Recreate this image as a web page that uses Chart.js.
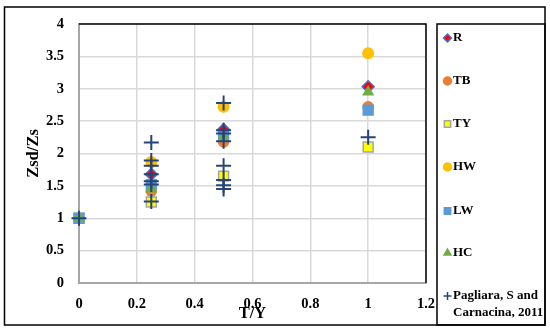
<!DOCTYPE html>
<html>
<head>
<meta charset="utf-8">
<script src="https://cdn.jsdelivr.net/npm/chart.js@4"></script>
<style>
  html, body { margin: 0; padding: 0; background: #fff; }
  #wrap { width: 550px; height: 332px; }
</style>
</head>
<body>
<div id="wrap"><canvas id="c" width="550" height="332"></canvas></div>
<script>
// ===== data =====
const xTicks = [0, 0.2, 0.4, 0.6, 0.8, 1, 1.2];
const yTicks = [0, 0.5, 1, 1.5, 2, 2.5, 3, 3.5, 4];

const baseX = [0, 0.25, 0.5, 1];
const rY  = [1, 1.68, 2.37, 3.03];
const tbY = [1, 1.42, 2.18, 2.72];
const tyY = [1, 1.25, 1.65, 2.1];
const hwX = [0.25, 0.5, 1];
const hwY = [1.87, 2.72, 3.55];
const lwY = [1, 1.52, 2.27, 2.67];
const hcY = [1, 1.45, 2.25, 2.95];
const pagX = [0, 0.25, 0.25, 0.25, 0.25, 0.25, 0.25, 0.25, 0.5, 0.5, 0.5, 0.5, 0.5, 0.5, 0.5, 0.5, 1];
const pagY = [1, 2.17, 1.89, 1.81, 1.68, 1.57, 1.52, 1.26, 2.78, 2.36, 2.31, 2.19, 1.81, 1.59, 1.51, 1.45, 2.25];

const seriesNames = ["R", "TB", "TY", "HW", "LW", "HC", ["Pagliara, S and", "Carnacina, 2011"]];

function pts(xs, ys) {
  return ys.map((y, i) => ({ x: xs[i], y: y }));
}

const FONT = "'Liberation Serif', 'Times New Roman', serif";

const datasets = [
  { label: "R", data: pts(baseX, rY), pointStyle: "rectRot", pointRadius: 6,
    backgroundColor: "#ff0000", borderColor: "#4472c4", borderWidth: 1.5 },
  { label: "TB", data: pts(baseX, tbY), pointStyle: "circle", pointRadius: 5.8,
    backgroundColor: "#ed7d31", borderColor: "#ed7d31", borderWidth: 0 },
  { label: "TY", data: pts(baseX, tyY), pointStyle: "rect", pointRadius: 7,
    backgroundColor: "#ffff00", borderColor: "#a5a5a5", borderWidth: 1.5 },
  { label: "HW", data: pts(hwX, hwY), pointStyle: "circle", pointRadius: 6,
    backgroundColor: "#ffc000", borderColor: "#ffc000", borderWidth: 0 },
  { label: "LW", data: pts(baseX, lwY), pointStyle: "rect", pointRadius: 8,
    backgroundColor: "#5b9bd5", borderColor: "#5b9bd5", borderWidth: 0 },
  { label: "HC", data: pts(baseX, hcY), pointStyle: "triangle", pointRadius: 7,
    backgroundColor: "#70ad47", borderColor: "#70ad47", borderWidth: 0 },
  { label: "Pagliara, S and Carnacina, 2011", data: pts(pagX, pagY), pointStyle: "cross", pointRadius: 7.5,
    backgroundColor: "#264478", borderColor: "#264478", borderWidth: 2 }
];
// lower order is drawn last, so later series end up on top
datasets.forEach((ds, i) => { ds.order = datasets.length - i; ds.clip = false; });

// ===== frame, plot border and legend =====
const framePlugin = {
  id: "frame",
  beforeDatasetsDraw(chart) {
    const { ctx, chartArea: a } = chart;
    ctx.save();
    ctx.strokeStyle = "#000";
    ctx.lineWidth = 1.5;
    ctx.beginPath();
    ctx.moveTo(a.left, a.top);
    ctx.lineTo(a.right, a.top);
    ctx.lineTo(a.right, a.bottom);
    ctx.stroke();
    ctx.restore();
  },
  afterDraw(chart) {
    const ctx = chart.ctx;
    ctx.save();
    ctx.strokeStyle = "#000";
    ctx.lineWidth = 1.5;
    ctx.strokeRect(4.5, 7, 540.5, 318);
    ctx.strokeRect(437, 24, 108, 301);

    // legend entries
    const rows = [38, 81, 124, 167, 211, 253, 296];
    ctx.font = "bold 13px " + FONT;
    ctx.textBaseline = "middle";
    ctx.textAlign = "left";
    datasets.forEach((ds, i) => {
      const y = rows[i];
      ctx.fillStyle = ds.backgroundColor;
      ctx.strokeStyle = ds.borderColor;
      ctx.lineWidth = ds.pointStyle === "cross" ? 1.5 : (ds.borderWidth || 0);
      Chart.helpers.drawPoint(ctx, {
        pointStyle: ds.pointStyle,
        radius: ds.pointStyle === "rect" ? 4.5 : 4,
        borderWidth: ctx.lineWidth
      }, 447.5, y);
      ctx.fillStyle = "#000";
      const name = seriesNames[i];
      if (Array.isArray(name)) {
        name.forEach((t, k) => ctx.fillText(t, 453, y + k * 16.5));
      } else {
        ctx.fillText(name, 453, y);
      }
    });
    ctx.restore();
  }
};

const ctx = document.getElementById("c").getContext("2d");
new Chart(ctx, {
  type: "scatter",
  data: { datasets: datasets },
  options: {
    responsive: false,
    animation: false,
    events: [],
    layout: { padding: { top: 24, right: 124, left: 0, bottom: 0 } },
    plugins: { legend: { display: false }, tooltip: { enabled: false } },
    scales: {
      x: {
        type: "linear",
        min: xTicks[0],
        max: xTicks[xTicks.length - 1],
        afterFit(scale) { scale.height = 49; },
        afterBuildTicks(scale) { scale.ticks = xTicks.map(v => ({ value: v })); },
        ticks: {
          padding: 13,
          color: "#000",
          font: { family: FONT, size: 14.5, weight: "bold" },
          callback: v => String(v)
        },
        grid: { color: "#d9d9d9", lineWidth: 1.5, drawTicks: false },
        border: { color: "#a6a6a6", width: 2 },
        title: {
          display: true, text: "T/Y", color: "#000",
          font: { family: FONT, size: 16.5, weight: "bold" },
          padding: { top: 0, bottom: 8 }
        }
      },
      y: {
        type: "linear",
        min: yTicks[0],
        max: yTicks[yTicks.length - 1],
        afterFit(scale) { scale.width = 79; },
        afterBuildTicks(scale) { scale.ticks = yTicks.map(v => ({ value: v })); },
        ticks: {
          padding: 15,
          color: "#000",
          font: { family: FONT, size: 14.5, weight: "bold" },
          callback: v => String(v)
        },
        grid: { color: "#d9d9d9", lineWidth: 1.5, drawTicks: false },
        border: { color: "#a6a6a6", width: 2 },
        title: {
          display: true, text: "Zsd/Zs", color: "#000",
          font: { family: FONT, size: 16.5, weight: "bold" },
          padding: { top: 24, bottom: 0 }
        }
      }
    }
  },
  plugins: [framePlugin]
});
</script>
</body>
</html>
